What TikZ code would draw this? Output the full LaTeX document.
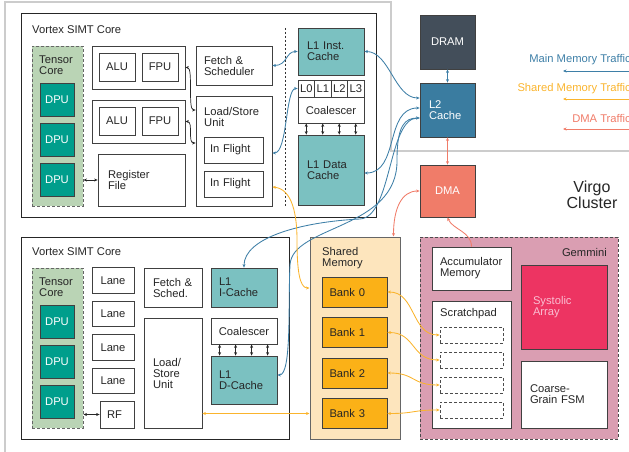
\documentclass[tikz,border=0pt]{standalone}
\usepackage{fontspec}
\setmainfont{Liberation Sans}
\usepackage{tikz}
\usetikzlibrary{arrows.meta}
\definecolor{cachecol}{RGB}{123,193,193}
\definecolor{dpucol}{RGB}{0,158,140}
\definecolor{tensorcol}{RGB}{186,212,181}
\definecolor{dramcol}{RGB}{67,78,90}
\definecolor{ltwocol}{RGB}{58,124,160}
\definecolor{dmacol}{RGB}{240,124,105}
\definecolor{smemcol}{RGB}{253,229,189}
\definecolor{bankcol}{RGB}{251,177,23}
\definecolor{gemmcol}{RGB}{218,158,178}
\definecolor{sysacol}{RGB}{237,52,98}
\definecolor{sysatext}{RGB}{250,190,210}
\definecolor{mainline}{RGB}{62,127,167}
\definecolor{shline}{RGB}{250,180,45}
\definecolor{dmaline}{RGB}{240,124,105}
\tikzset{
    core/.style={draw=black!85, line width=1pt, fill=white},
    box/.style={draw=black!75, line width=0.8pt, fill=white, inner sep=0pt},
    cache/.style={box, fill=cachecol},
    dpu/.style={box, fill=dpucol, text=white, minimum width=34, minimum height=33},
    tensor/.style={draw=black!60, line width=0.9pt, dash pattern=on 3pt off 2pt, fill=tensorcol},
    bank/.style={box, fill=bankcol, minimum width=65, minimum height=30, text width=50, align=left},
    slot/.style={draw=black!70, line width=0.8pt, dash pattern=on 3pt off 2pt, fill=white, minimum width=63, minimum height=16},
    txt/.style={inner sep=0pt},
    tiny/.style={<->, black!85, line width=0.7pt},
    mainarrow/.style={<->, mainline, line width=0.85pt},
    sharrow/.style={<->, shline, line width=0.85pt},
    dmaarrow/.style={<->, dmaline, line width=0.85pt}
}

\begin{document}
\begin{tikzpicture}[x=1pt, y=-1pt, font=\fontsize{11.2}{11}\selectfont, text=black!85,
    >={Stealth[length=3.5pt, width=3pt]}]
        \clip (0,0) rectangle (629,452);
        \draw[gray!40, line width=1.2pt] (5,452) -- (5,2) -- (391,2) -- (391,151) -- (629,151);

        \draw (198.5, 115.5) node(core1)[core, minimum width=355, minimum height=203]{};
        \draw (32, 30) node(title1)[txt, anchor=west]{Vortex SIMT Core};
        \draw (57.5, 126) node(tc1)[tensor, minimum width=51, minimum height=160]{};
        \draw (39, 65.5) node(tct1)[txt, anchor=west, align=left]{Tensor\\Core};
        \foreach \y [count=\i] in {99.5, 139.5, 180}
            \draw (57, \y) node(dpua\i)[dpu]{DPU};
        \draw (138.5, 67.5) node(exa)[box, minimum width=93, minimum height=43]{};
        \draw (117, 67) node(alua)[box, minimum width=36, minimum height=28]{ALU};
        \draw (160, 67) node(fpua)[box, minimum width=36, minimum height=28]{FPU};
        \draw (138.5, 121.5) node(exb)[box, minimum width=93, minimum height=43]{};
        \draw (117, 121) node(alub)[box, minimum width=36, minimum height=28]{ALU};
        \draw (160, 121) node(fpub)[box, minimum width=36, minimum height=28]{FPU};
        \draw (141.5, 180) node(rfa)[box, minimum width=87, minimum height=52, text width=67, align=left]{Register\\File};
        \draw (234, 65.5) node(fetcha)[box, minimum width=76, minimum height=39, text width=60, align=left]{Fetch \&\\Scheduler};
        \draw (234, 151) node(lsua)[box, minimum width=76, minimum height=110]{};
        \draw (204, 116.5) node(lsuta)[txt, anchor=west, align=left]{Load/Store\\Unit};
        \draw (233.5, 150) node(fla)[box, minimum width=59, minimum height=26, text width=47, align=left]{In Flight};
        \draw (233.5, 184) node(flb)[box, minimum width=59, minimum height=26, text width=47, align=left]{In Flight};
        \draw[black!80, line width=0.8pt, dash pattern=on 2pt off 2pt] (285, 28) -- (285, 207);
        \draw (331, 51.5) node(lia)[cache, minimum width=66, minimum height=47, text width=48, align=left]{L1 Inst.\\Cache};
        \foreach \x [count=\i from 0] in {306.25, 322.75, 339.25, 355.75}
            \draw (\x, 88.5) node(lq\i)[box, minimum width=16.5, minimum height=17]{L\i};
        \draw (331, 110) node(coala)[box, minimum width=66, minimum height=26]{Coalescer};
        \draw (331, 170) node(lda)[cache, minimum width=66, minimum height=70, text width=48, align=left]{L1 Data\\Cache};
        \foreach \i in {0,...,3}
            \draw[tiny] (coala.south -| lq\i) -- (lda.north -| lq\i);

        \draw (447.5, 42) node(dram)[box, fill=dramcol, text=white, minimum width=55, minimum height=54]{DRAM};
        \draw (447.5, 110) node(ltwo)[box, fill=ltwocol, text=white, minimum width=55, minimum height=54, text width=37, align=left]{L2\\Cache};
        \draw (447.5, 191) node(dma)[box, fill=dmacol, text=white, minimum width=55, minimum height=52]{DMA};
        \draw (592, 195) node(virgo)[txt, align=center, font=\fontsize{16}{16}\selectfont]{Virgo\\Cluster};

        \draw (631, 60) node(lgmain)[txt, anchor=east, text=mainline]{Main Memory Traffic};
        \draw (631, 89) node(lgsh)[txt, anchor=east, text=shline]{Shared Memory Traffic};
        \draw (631, 118) node(lgdma)[txt, anchor=east, text=dmaline]{DMA Traffic};
        \coordinate (lgma) at (563, 71);
        \coordinate (lgmb) at (650, 71);
        \coordinate (lgsa) at (563, 99);
        \coordinate (lgsb) at (650, 99);
        \coordinate (lgda) at (563, 129);
        \coordinate (lgdb) at (650, 129);
        \draw[mainarrow] (lgma) -- (lgmb);
        \draw[sharrow] (lgsa) -- (lgsb);
        \draw[dmaarrow] (lgda) -- (lgdb);

        \draw (155, 338) node(core2)[core, minimum width=268, minimum height=202]{};
        \draw (32, 252) node(title2)[txt, anchor=west]{Vortex SIMT Core};
        \draw (57.5, 348) node(tc2)[tensor, minimum width=51, minimum height=160]{};
        \draw (39, 287.5) node(tct2)[txt, anchor=west, align=left]{Tensor\\Core};
        \foreach \y [count=\i] in {321.5, 361.5, 402}
            \draw (57, \y) node(dpub\i)[dpu]{DPU};
        \foreach \i in {0,...,3}
            \draw (113, 280.5+33.5*\i) node(lane\i)[box, minimum width=42, minimum height=25.5]{Lane};
        \draw (117, 414.5) node(rfb)[box, minimum width=34, minimum height=27, text width=20, align=left]{RF};
        \draw (173, 287.5) node(fetchb)[box, minimum width=58, minimum height=39, text width=40, align=left]{Fetch \&\\Sched.};
        \draw (173, 373) node(lsub)[box, minimum width=58, minimum height=110, text width=40, align=left]{Load/\\Store\\Unit};
        \draw (244, 287.5) node(lib)[cache, minimum width=66, minimum height=39, text width=50, align=left]{L1\\I-Cache};
        \draw (244, 331) node(coalb)[box, minimum width=66, minimum height=26]{Coalescer};
        \draw (244, 380) node(ldcb)[cache, minimum width=66, minimum height=48, text width=50, align=left]{L1\\D-Cache};
        \foreach \i in {0,...,3}
            \draw[tiny] ([xshift=9+16*\i]coalb.south west) -- ([xshift=9+16*\i]ldcb.north west);

        \draw (355, 338) node(smem)[box, fill=smemcol, draw=black!60, line width=1pt, minimum width=90, minimum height=202]{};
        \draw (322, 258) node(smemt)[txt, anchor=west, align=left]{Shared\\Memory};
        \foreach \i in {0,...,3}
            \draw (354.5, 292+40.5*\i) node(bank\i)[bank]{Bank \i};

        \draw (519, 338) node(gemm)[box, fill=gemmcol, draw=black!70, line width=1pt, dash pattern=on 3pt off 2pt, minimum width=198, minimum height=202]{};
        \draw (607, 252) node(gemmt)[txt, anchor=east]{Gemmini};
        \draw (471.5, 268.5) node(acc)[box, minimum width=79, minimum height=43, text width=63, align=left]{Accumulator\\Memory};
        \draw (471.5, 364.5) node(spad)[box, minimum width=79, minimum height=127]{};
        \draw (440, 314) node(spadt)[txt, anchor=west]{Scratchpad};
        \foreach \i in {0,...,3}
            \draw (471.5, 335+25*\i) node(slot\i)[slot]{};
        \draw (564, 307) node(sysa)[box, fill=sysacol, text=sysatext, minimum width=86, minimum height=84, text width=62, align=left]{Systolic\\Array};
        \draw (564, 394.5) node(fsm)[box, minimum width=86, minimum height=67, text width=68, align=left]{Coarse-\\Grain FSM};

        \draw[tiny] (exa.east) .. controls +(8,0) and +(-8,0) .. ([yshift=41]lsua.west);
        \draw[tiny] (exb.east) .. controls +(8,0) and +(-8,0) .. ([yshift=8]lsua.west);
        \draw[tiny] (rfa.west -| tc1.east) -- (rfa.west);
        \draw[tiny] (rfb.west -| tc2.east) -- (rfb.west);

        \draw[mainarrow] (dram.south) -- (ltwo.north);
        \draw[mainarrow] (fetcha.east) .. controls +(15,0) and +(-12,0) .. (lia.west);
        \draw[mainarrow] ([yshift=-2]lsua.east) .. controls +(15,0) and +(-12,0) .. (lq0.west);
        \draw[mainarrow] (lia.east) .. controls +(25,0) and +(-25,0) .. ([yshift=12]ltwo.west);
        \draw[mainarrow] ([yshift=-3]lda.east) .. controls +(35,0) and +(-35,0) .. ([yshift=2]ltwo.west);
        \draw[mainarrow] (lib.north) .. controls (244,238) and (300,222) .. (360,219)
            .. controls (392,217) and (388,118) .. ([yshift=-8]ltwo.west);
        \draw[mainarrow] ([yshift=5]ldcb.east) .. controls (292,375) and (288,300) .. (290,265)
            .. controls (292,225) and (398,230) .. (397,160)
            .. controls (397,125) and (405,118) .. ([yshift=-8]ltwo.west);

        \draw[sharrow] ([yshift=-36]lsua.east) .. controls +(20,2) and +(0,-25) .. (297,240)
            .. controls +(0,30) and +(-10,0) .. ([yshift=50]smem.west);
        \draw[sharrow] (bank3.west -| lsub.east) -- (bank3.west -| smem.west);
        \foreach \i in {0,...,3}
            \draw[sharrow] (bank\i.east) .. controls +(28,0) and +(-28,0) .. (slot\i.west);

        \draw[dmaarrow] (ltwo.south) -- (dma.north);
        \draw[dmaarrow] (dma.west) .. controls +(-18,0) and +(0,-28) .. ([xshift=-7]smem.north east);
        \draw[dmaline, line width=0.85pt, ->] (acc.north) .. controls +(0,-15) and +(5,12) .. (dma.south);
    \end{tikzpicture}
\end{document}
